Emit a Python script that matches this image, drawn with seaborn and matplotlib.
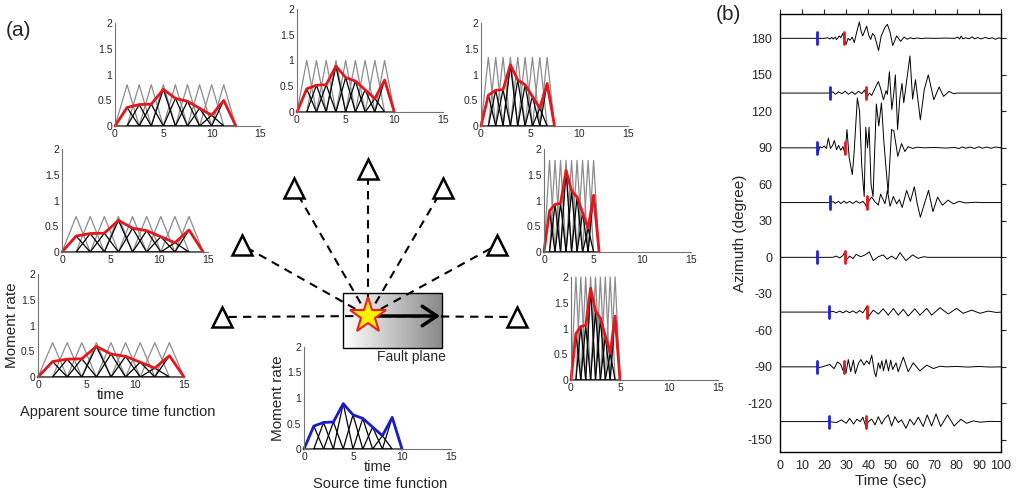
import numpy as np
import matplotlib
matplotlib.use('Agg')
import matplotlib.pyplot as plt
from matplotlib.colors import LinearSegmentedColormap
from matplotlib.patches import Rectangle
import seaborn as sns

sns.set_style('white')
plt.rcParams['font.family'] = ['Liberation Sans', 'DejaVu Sans']
plt.rcParams['axes.unicode_minus'] = False

# 震源時間関数: t = 1..9 の三角形の振幅
stf_amps = [0.45, 0.52, 0.53, 0.89, 0.67, 0.60, 0.43, 0.26, 0.62]

# 見かけの震源時間関数の伸縮率 (各観測点)
stretch = {'tl': 1.25, 'tc': 1.0, 'tr': 0.75, 'ml': 1.45, 'bl': 1.5,
           'mr': 0.5625, 'br': 0.5, 'src': 1.0}

# 観測点 (図中のピクセル位置) と震源
station_x = [222, 242, 294, 368, 443, 497, 517]
station_y = [317, 245, 188, 169, 188, 245, 317]
epi_x, epi_y = 368, 316

# (b) 波形: (時間, 振幅[度]) / P到達 (青) / 赤マーカー
az_list = [180, 135, 90, 45, 0, -45, -90, -135]
blue_t = [16.6, 22.4, 16.9, 22.4, 16.9, 22.3, 16.9, 22.3]
red_t = [29.0, 38.9, 29.3, 39.2, 29.3, 39.2, 29.1, 38.9]

tr_180 = [(0, 0), (16.6, 0), (20, 0), (21.5, 0.5), (22.6, -0.5), (23.4, 0.8), (24.1, -0.6), (25, 1),
          (25.6, -1), (26.3, 0.5), (26.8, 2), (27.5, 0.5), (28.4, 4), (29.2, -2), (29.9, -5), (30.8, 0),
          (31.7, -1.5), (32.7, 1), (33.6, -3.5), (34.7, 5), (35.9, 13.5), (36.8, 5), (37.4, 2), (38.3, 6),
          (39.2, 10), (40.1, 3), (41, -1), (41.9, 4), (42.8, 2), (44.6, -10), (45.8, 2), (47.5, 9),
          (48.6, 11.5), (49.8, 5), (51, -6), (52.8, 2), (54.6, -2.5), (56.1, 1), (57.6, -0.7), (59, 0.5),
          (60.5, -0.4), (62, 0.3), (64, -0.2), (66, 0.2), (70, 0), (75, 0.2), (79, 0), (80.5, 1),
          (81.3, -0.5), (82, 1.8), (82.8, -0.5), (84, 0.5), (85.5, -0.3), (87, 1.2), (88, -0.4), (89.5, 0.6),
          (91, -0.5), (93, 0.8), (94.5, -0.3), (96, 0.5), (97.5, -0.8), (99, 0.4), (100, 0)]
tr_135 = [(0, 0), (22.4, 0), (24, 1), (25, -1), (26.5, 1), (28, -0.5), (29.5, 1.5), (31, -1), (32.5, 1),
          (34, -1), (35.5, 1.5), (37, -0.5), (38.3, 2.5), (39.2, -3.5), (40.5, 0), (41.5, -2), (43, 4),
          (44.5, 9.5), (45.5, 4), (46.8, -5.5), (48, 2), (48.6, -1), (49.5, 17.5), (50.6, -13.5), (51.5, 0),
          (52.2, 15), (53.2, -30), (54.2, -5), (55.2, 8), (56, -8), (57, 6), (58.8, 30.5), (60, -5),
          (61.3, 11), (63.5, -22), (65.3, 3), (67.1, 15), (69.6, -5.5), (72, 5), (74, -2.7), (76.5, 1.4),
          (78.5, -0.5), (80, 0), (100, 0)]
tr_90 = [(0, 0), (16.9, 0), (17.3, -4), (18, 1), (19, 0), (20, 1.5), (21, -0.5), (21.9, 8), (22.8, -0.5),
         (23.8, 2), (24.6, 6), (25.6, -1.5), (26.5, 2), (27.5, -2), (28.5, 1), (29.4, -5), (30.3, 15),
         (31.3, -8), (32.7, -22), (33.5, -5), (35, 41), (36, 30), (37, -15), (38.1, -40), (38.8, 17),
         (39.6, 0), (40.3, 17), (41.2, -30), (42.1, -40), (43.6, 36), (44.7, 18), (45.9, 37), (47, 5),
         (48.9, -37), (50.5, 15), (51.5, 14), (53.3, -7), (55, 3.5), (56.5, -3), (58, 1), (60, -0.5),
         (62, 0.5), (65, 0), (70, 0.3), (75, -0.2), (79, 0.3), (81, -0.6), (82.5, 0.8), (84, -0.3),
         (86, 0.6), (88, -0.5), (90, 0.9), (91.5, -0.3), (93.5, 0.6), (95.5, -0.4), (97.5, 0.7), (100, 0)]
tr_45 = [(0, 0), (22.4, 0), (24, 0.8), (25, -0.6), (26.5, 1), (27.5, -0.8), (29, 1.2), (30, -0.5),
         (31.5, 1), (33, -0.8), (34.5, 1.3), (36, -0.5), (37.5, 1), (38.5, -1), (39.2, -4), (40, 1),
         (41.5, 4.5), (43, 0.5), (44.5, -2), (45.5, 7), (46.5, 3), (47.5, -1), (48.6, 10), (49.8, -3),
         (51.3, 5), (52.8, -1), (54, 2.5), (55.3, -4), (57.3, 10), (59, 1), (60.8, 13), (62, 0),
         (63.5, -12), (65.5, 0), (67.2, 10), (69.2, -7.5), (71.3, 4.5), (73.5, -2.2), (76, 2),
         (78.5, -1), (81, 1), (84, -0.3), (88, 0.3), (92, 0), (100, 0)]
tr_0 = [(0, 0), (16.9, 0), (24, 0), (25.5, 1), (27, -0.5), (28.5, 1.5), (29.3, 4.5), (29.8, -2.7),
        (31.5, 1), (33, -1), (34.5, 2.5), (36.5, 0.5), (38.5, 2), (40.4, 4.5), (42.2, -2.7), (44.5, 0.5),
        (46.7, 2), (48.5, -1.5), (50.5, 1), (52.5, -1.5), (54.3, 3.8), (57, -2.7), (60, 2), (62.5, -0.8),
        (65, 0.5), (67, 0), (100, 0)]
tr_m45 = [(0, 0), (22.3, 0), (24, 0.6), (25.5, -0.5), (27, 0.8), (28.5, -0.6), (30, 1), (31.5, -0.5),
          (33, 1), (34.5, -0.8), (36, 1.2), (37.5, -0.6), (39.2, 4.4), (40, -3.8), (42.2, 1.6),
          (44.5, -1.6), (46.7, 2.7), (49, -2.5), (51.3, 3), (53.5, -2.5), (55.8, 2.2), (58, -3.3),
          (61, 2.7), (63.3, -2.5), (66.4, 3), (68.6, -2.5), (72.4, 3.6), (76.1, -1.6), (79.9, 3),
          (82.9, -1), (86.7, 1.6), (90.5, -1), (94.2, 0.8), (98, -0.3), (100, 0)]
tr_m90 = [(0, 0), (16.9, 0), (18, -0.5), (20, 0.5), (22.5, 2), (24.5, -1.5), (26, 4), (27.5, 2),
          (28.5, -3), (29.1, 1.5), (29.8, -5.5), (30.9, 6), (32, -4), (33.2, 5.5), (34.1, -5.5),
          (35.5, 3), (36.6, 6), (38, 1.5), (39.2, 5), (40.4, 2.2), (41.5, 9.6), (42.7, -4), (43.4, -8.2),
          (44.5, 3.3), (45.3, -1.4), (46.1, 5), (46.8, -3.3), (48, 6), (49.1, -3.3), (50.1, 5.5),
          (51, -2.2), (52.5, 3.3), (53.5, -4), (55.8, 8), (58, -4), (60.3, 3.3), (63.3, -3.3),
          (66.4, 1.4), (69.4, -1.4), (72.4, 0.5), (75, 0), (80, 0.3), (85, -0.2), (90, 0.3), (95, -0.2),
          (100, 0)]
tr_m135 = [(0, 0), (22.3, 0), (25.6, -0.8), (27.8, 1.4), (30, -1.4), (31.5, 2.7), (33.3, -2), (34.8, 2),
           (36.3, 0), (37.5, 3.6), (38.9, -4.6), (40, 0), (41.5, 2), (43, -2.7), (44.5, 4), (46, -2),
           (47.5, 2.7), (49, 5.5), (50.5, -3.6), (52, 4), (53.5, -0.8), (55, 1.4), (57, -5.5), (58.8, 2),
           (60.6, -2.7), (62.6, 3.6), (64.8, -4), (66.6, 5.5), (68.6, -3.6), (70.6, 6.3), (72.7, -4),
           (75.8, 5.5), (78.8, -3.6), (81.8, 1.9), (84.5, -1.4), (87.5, 0.6), (90.5, -0.5), (95, 0.2),
           (100, 0)]
traces = [tr_180, tr_135, tr_90, tr_45, tr_0, tr_m45, tr_m90, tr_m135]

# 各インセットの位置 (左, 右, 上, 下 ピクセル)
inset_px = {'tl': (115, 260, 23, 126), 'tc': (297, 443, 9, 112), 'tr': (481, 628, 23, 126),
            'ml': (62, 208, 149, 252), 'bl': (38, 184, 274, 377), 'src': (304, 451, 347, 449),
            'mr': (544, 691, 149, 252), 'br': (571, 718, 277, 380)}

W, H = 1024, 494
fig = plt.figure(figsize=(W / 100, H / 100), dpi=100)

# 背景の模式図
ax0 = fig.add_axes([0, 0, 1, 1])
ax0.set_zorder(0)
grad = LinearSegmentedColormap.from_list('fault', ['#ffffff', '#8a8a8a'])
ax0.imshow(np.linspace(0, 1, 256)[None, :], cmap=grad, aspect='auto',
           extent=[343, 442, 348, 293], zorder=1)
ax0.add_patch(Rectangle((343, 293), 99, 55, fill=False, ec='k', lw=1, zorder=2))
for sx, sy in zip(station_x, station_y):
    ax0.plot([epi_x, sx], [epi_y, sy], color='k', lw=1.5, ls=(0, (4, 3)), zorder=3)
ax0.annotate('', xy=(440, epi_y), xytext=(epi_x, epi_y),
             arrowprops=dict(arrowstyle='->,head_length=0.75,head_width=0.5', lw=2.5, color='k',
                             shrinkA=0, shrinkB=0, mutation_scale=14), zorder=4)
ax0.plot(station_x, station_y, ls='none', marker='^', ms=15, mfc='white', mec='k', mew=1.8, zorder=5)
ax0.plot(epi_x, epi_y, marker='*', ms=27, mfc='#fff200', mec='#e5231b', mew=1.5, zorder=6)
ax0.text(377, 357, 'Fault plane', fontsize=10, va='center', ha='left')
ax0.text(6, 30, '(a)', fontsize=15, va='center', ha='left')
ax0.text(716, 15, '(b)', fontsize=15, va='center', ha='left')
ax0.text(118, 412, 'Apparent source time function', fontsize=10.5, va='center', ha='center')
ax0.text(380, 484, 'Source time function', fontsize=10.5, va='center', ha='center')
ax0.set_xlim(0, W)
ax0.set_ylim(H, 0)
ax0.axis('off')


def draw_stf(key, color, grey=True):
    l, r, t, b = inset_px[key]
    ax = fig.add_axes([l / W, 1 - b / H, (r - l) / W, (b - t) / H])
    ax.set_zorder(2)
    ax.patch.set_alpha(0)
    s = stretch[key]
    for k, a in enumerate(stf_amps, start=1):
        tt = [(k - 1) * s, k * s, (k + 1) * s]
        if grey:
            ax.plot(tt, [0, 1 / s, 0], color='0.55', lw=0.9, clip_on=False)
    for k, a in enumerate(stf_amps, start=1):
        tt = [(k - 1) * s, k * s, (k + 1) * s, (k - 1) * s]
        ax.plot(tt, [0, a / s, 0, 0], color='k', lw=0.9, clip_on=False)
    tx = [0] + [k * s for k in range(1, 10)] + [10 * s]
    ty = [0] + [a / s for a in stf_amps] + [0]
    sns.lineplot(x=tx, y=ty, ax=ax, color=color, lw=2, sort=False, estimator=None)
    for ln in ax.lines:
        ln.set_clip_on(False)
    ax.set_xlim(0, 15)
    ax.set_ylim(0, 2)
    ax.set_xticks([0, 5, 10, 15])
    ax.set_yticks([0, 0.5, 1, 1.5, 2])
    ax.set_yticklabels(['0', '0.5', '1', '1.5', '2'])
    sns.despine(ax=ax)
    for sp in ['left', 'bottom']:
        ax.spines[sp].set_color('0.45')
        ax.spines[sp].set_linewidth(0.8)
    ax.tick_params(direction='in', length=2, width=0.6, color='0.45', labelsize=7.5, pad=2)
    return ax


for key in ['tl', 'tc', 'tr', 'ml', 'bl', 'mr', 'br']:
    draw_stf(key, '#e3171c')
ax_bl = fig.axes[-3]
ax_src = draw_stf('src', '#1a1ad0', grey=False)
for ax in [ax_bl, ax_src]:
    ax.set_ylabel('Moment rate', fontsize=11, labelpad=1)
    ax.set_xlabel('time', fontsize=10.5, labelpad=-1)

# (b) 地震波形
axb = fig.add_axes([780 / W, 1 - 452 / H, 221 / W, 438 / H])
axb.set_zorder(1)
for az, tb, trd, pts in zip(az_list, blue_t, red_t, traces):
    tx = [p[0] for p in pts]
    ty = [az + p[1] for p in pts]
    sns.lineplot(x=tx, y=ty, ax=axb, color='k', lw=0.7, sort=False, estimator=None)
    axb.plot([tb, tb], [az - 5, az + 5], color='#1f1fd6', lw=2, zorder=4)
    axb.plot([trd, trd], [az - 5, az + 5], color='#e3171c', lw=2, zorder=4)
axb.set_xlim(0, 100)
axb.set_ylim(-160, 200)
axb.set_xticks(range(0, 101, 10))
axb.set_yticks(range(-150, 181, 30))
axb.tick_params(direction='out', length=3.5, width=0.8, labelsize=9, top=True, right=True,
                labeltop=False, labelright=False, pad=2)
for sp in axb.spines.values():
    sp.set_color('k')
    sp.set_linewidth(1)
axb.set_xlabel('Time (sec)', fontsize=11, labelpad=2)
axb.set_ylabel('Azimuth (degree)', fontsize=11, labelpad=0)

fig.savefig('out.png', dpi=100)
